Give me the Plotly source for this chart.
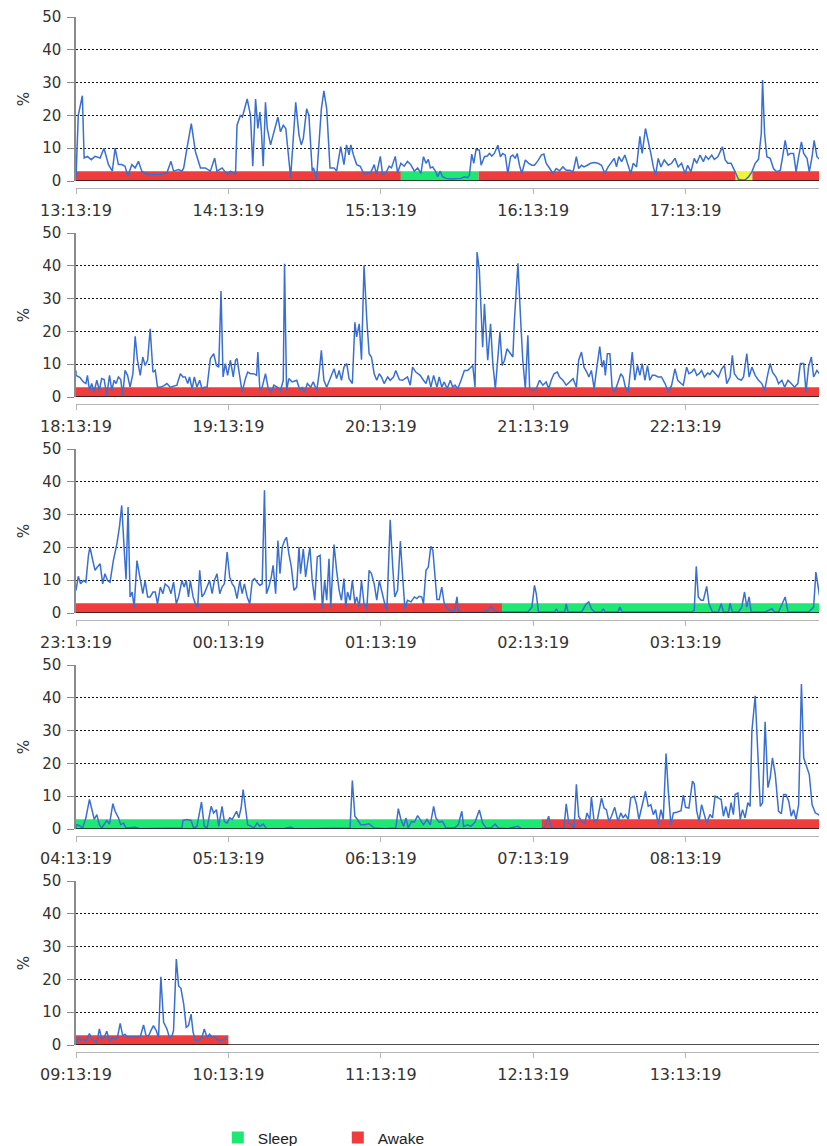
import plotly.graph_objects as go
import pandas as pd

# ---------------- data ----------------
START = pd.Timestamp("2013-06-01 13:13:19")
PANEL_MINUTES = 300  # each row shows 5 hours

# activity (%) per row: (minutes since row start, value)
row1 = [(0,1),(0.9,20),(2.5,26),(3.2,7),(4.5,7.5),(6,6.5),(7.5,7.5),(9.5,7),(11,10),(12.8,5),(14.3,3),(15.4,10),(16.7,5),(18,5),(19.3,4.5),(20.4,1.5),(22,5),(23.3,4),(24.6,6),(25.9,3),(27.9,2),(30.5,2),(33.2,2),(35.8,2.5),(37.4,6),(38.4,3),(40.4,3.5),(41.7,3),(42.4,4),(43.7,10),(45.4,17.5),(47,9),(49,4),(50.9,4),(52.9,3),(54.6,7),(55.5,3),(57.5,4),(59.5,2),(60.8,3),(62.8,2),(63.4,17),(64.7,20),(65.5,19.5),(67.4,25),(68.7,20),(69.6,4.5),(70.7,25),(71.6,16),(72.4,21),(73,15),(73.7,4.5),(74.6,24),(75.3,16),(76.6,11),(77.6,14),(79.5,19.5),(80.5,15),(81.6,17),(82.6,16),(84.5,1),(86.5,24),(87.8,14),(88.7,11),(89.5,13),(90.8,22),(91.7,20),(93,3),(93.5,4),(94.7,0.5),(96.6,22),(97.6,27.5),(98.7,22),(100,4),(101.6,4),(102.6,3),(104.2,10.5),(105.5,5),(106.5,11),(107.5,8),(108.2,11),(109.2,8),(110.5,5),(111.9,4.5),(113.4,2),(114.8,2.5),(116,2.5),(117.4,5),(118.3,2),(119.8,7.5),(120.7,2),(122,2.5),(123.3,4.5),(124.2,4),(125.7,7.5),(126.6,2.5),(127.9,5.4),(129.2,4.5),(130.5,6),(131.8,5),(133.2,3),(134.5,4),(135.8,2.3),(136.8,7.4),(137.8,5.4),(138.7,6.6),(139.5,4),(140.4,4.3),(141.5,3),(142.4,1.3),(143.4,3),(144.3,1.3),(145.7,0.8),(147.6,0.6),(149.6,0.6),(151.6,0.8),(152.9,1.3),(154.2,1),(154.9,1.8),(155.8,8.2),(156.6,5.4),(157.5,9.6),(158.8,9.4),(159.5,4.8),(160.8,7.4),(161.9,7.6),(162.8,8.4),(163.7,7.6),(164.7,8.4),(166.1,10.9),(167.1,7.4),(168,8.4),(169,7.9),(170,2.3),(171.1,7.4),(172,7.9),(172.9,6.9),(173.7,8.4),(174.6,4.8),(175.5,2.3),(176.9,6.4),(178.2,5.4),(179.5,4.8),(180.5,4.8),(181.9,6.2),(183.2,7.9),(184.2,8.2),(185.1,5.4),(186.5,3.8),(187.8,2.3),(189.1,3.8),(190.4,3.1),(191.7,4.3),(193,3.3),(194.4,3.3),(195.7,2.8),(197,7.4),(197.9,3.8),(199,4.8),(200,4.3),(201.3,4.8),(202.6,5.4),(204,5.6),(205.5,5.4),(206.9,4.8),(208.2,2.3),(209.5,4.3),(210.8,5.9),(211.9,6.9),(212.8,4.3),(213.7,7.4),(214.8,5.9),(216.1,7.9),(217.1,5.4),(218.4,2.3),(219.4,5.4),(220.7,4.3),(222,13.6),(222.9,8.4),(224.2,16),(225.3,12.4),(226.3,8.4),(227.3,4.3),(228.2,1.8),(229.2,6.9),(230.3,4.3),(231.6,6.4),(233.2,4.8),(234.5,5.4),(235.8,6.9),(237.1,4.3),(238.4,5.4),(239.8,2.3),(240.8,4.8),(242.1,2.8),(243.4,6.9),(244.4,5.4),(245.7,7.9),(247,5.9),(247.9,7.6),(249,6.6),(250.3,7.9),(251.3,6.6),(252.7,7.4),(254.5,10.4),(255.6,6.4),(256.6,5.4),(257.9,5.4),(259.5,2.8),(260.8,0.5),(262.1,0.3),(263.4,0.3),(264.8,1.3),(266.1,2.8),(267.4,5.4),(268.7,6.6),(269.8,14.4),(270.3,30.8),(271.1,14.4),(272,7.4),(273.3,6.9),(274.6,3.8),(275.9,2.8),(277.3,3.3),(278.2,7.4),(279.2,12.4),(280.3,7.9),(281.2,8.4),(282.5,8.4),(283.5,2.8),(284.5,7.4),(285.6,11.9),(286.5,8.4),(287.8,6.9),(288.7,2.8),(289.8,7.4),(290.6,12.4),(291.7,7.4),(293.1,6.4),(294.4,4.3),(295.7,8.4),(296.4,8.9),(298,7),(300,8)]

row2 = [(0,6.6),(1.6,5.9),(2.9,4.6),(3.9,4.1),(4.5,6.6),(5.3,2.0),(6.2,4.1),(7.1,1.5),(8.2,5.1),(9.2,2.0),(10.1,5.6),(11.1,5.3),(12.1,0.5),(13.2,6.6),(14.1,2.0),(15,5.1),(15.8,4.1),(16.7,6.1),(17.6,5.3),(18.4,0.5),(19.3,8.1),(20.3,6.6),(21.3,3.0),(22.4,7.1),(23.3,18.5),(24.2,11.2),(25.3,6.6),(26.3,12.2),(27.2,9.6),(28.2,11.2),(29.2,20.8),(30.3,7.6),(31.2,8.1),(32.1,3.0),(33.2,3.0),(34.5,3.4),(35.8,4.1),(37.1,3.0),(38.4,3.4),(39.7,3.6),(41.1,7.1),(42.1,6.1),(43,6.1),(44,4.1),(44.7,6.1),(45.7,2.5),(46.6,6.1),(47.6,3.0),(48.7,5.1),(49.6,2.5),(50.5,3.0),(51.6,3.0),(52.9,11.7),(54.2,13.2),(55.3,9.6),(56.2,9.1),(57.1,32.3),(57.9,6.1),(58.8,10.2),(59.7,6.6),(60.8,11.2),(61.9,6.1),(62.8,11.2),(63.4,11.7),(64.5,6.1),(65.4,1.5),(66.7,5.6),(67.6,7.6),(68.7,7.1),(70,7.1),(71.1,6.6),(71.6,13.7),(72.4,2.0),(73.3,3.0),(74.6,7.1),(75.7,2.5),(76.9,1.5),(77.9,3.6),(79.2,3.0),(80.5,2.0),(81.6,5.1),(82.1,40.6),(82.9,2.0),(83.8,5.6),(85.1,4.6),(86.9,5.1),(88.2,2.0),(89.1,3.0),(90,1.5),(91.1,4.1),(92.4,3.0),(93.4,4.6),(94.8,2.0),(95.7,7.1),(96.6,14.2),(97.6,5.1),(98.7,3.0),(100,5.6),(100.9,7.1),(101.6,8.6),(102.6,5.6),(103.6,8.1),(104.5,5.1),(105.5,9.1),(106.6,10.2),(107.5,5.6),(108.8,4.1),(109.8,22.8),(110.5,18.3),(111.5,22.3),(112.4,11.4),(113.4,40.1),(114.5,23.4),(115.4,13.2),(116.3,12.2),(117.4,7.1),(118.4,5.1),(119.4,7.1),(120.3,6.1),(121.3,4.1),(122.7,6.1),(123.7,5.1),(125,6.1),(125.9,8.1),(127.3,5.3),(128.6,5.1),(129.5,5.6),(130.5,6.1),(131.6,3.6),(132.5,9.1),(133.8,7.6),(135.5,6.6),(136.8,5.1),(137.8,4.1),(138.7,6.6),(139.7,3.0),(140.8,6.6),(142.1,3.0),(143,6.1),(144,3.0),(145,4.6),(146.1,2.5),(147.4,5.1),(148.3,3.0),(149.2,3.6),(150.3,2.5),(151.6,5.1),(152.9,8.1),(154.2,8.1),(155.5,9.1),(156.2,9.6),(157.1,3.0),(157.9,44.2),(158.8,38.6),(159.5,27.4),(160.1,15.2),(160.8,28.4),(161.5,20.3),(162.1,11.2),(163.2,22.3),(164.1,10.2),(165.1,2.5),(166.1,11.2),(166.9,19.8),(167.8,9.6),(168.7,11.2),(169.7,14.7),(170.7,13.7),(172,12.2),(172.6,23.4),(173.3,32.5),(174,40.8),(175,24.4),(175.9,11.2),(176.9,2.5),(177.9,18.8),(178.6,2.5),(179.9,2.0),(181.2,2.5),(182.5,5.1),(183.8,3.6),(185.1,4.6),(186.1,2.5),(187.1,5.1),(188.2,7.1),(189.5,7.6),(190.4,6.1),(191.7,5.1),(193,3.6),(194.4,4.6),(195.7,5.6),(197,3.0),(197.9,11.2),(199,13.7),(200,9.1),(201.1,7.6),(201.9,6.1),(202.9,8.1),(204,2.5),(204.9,8.1),(206.2,15.4),(207.1,9.1),(207.8,11.2),(208.4,6.6),(209.2,13.2),(210.2,13.2),(211.1,2.5),(212.1,1.5),(213.4,4.6),(214.5,7.1),(215.4,6.1),(216.3,3.0),(217.4,1.5),(218.4,9.1),(219,13.7),(220,5.1),(221.1,9.6),(222,6.6),(222.9,10.2),(224,5.1),(225,9.6),(225.9,5.1),(226.9,6.6),(227.9,6.6),(229.2,6.1),(230.5,6.1),(231.9,4.1),(233.2,1.5),(234.5,3.6),(235.8,8.6),(236.9,5.1),(238.2,4.1),(239.1,3.6),(240.4,9.1),(241.3,7.1),(242.4,7.6),(243.4,8.6),(244.4,6.6),(245.3,7.1),(246.3,8.1),(247.4,6.1),(248.7,7.3),(249.6,6.9),(250.6,8.1),(251.6,7.1),(252.9,6.1),(254.2,8.6),(255.3,9.6),(256.2,4.1),(257.5,6.1),(258.4,12.7),(259.2,7.1),(260.6,5.6),(261.9,5.1),(262.8,6.1),(264.1,13.2),(265,6.1),(266.1,9.1),(267.4,6.6),(268.7,5.1),(270,4.1),(271.1,2.0),(272.4,7.1),(273.3,10.2),(274.2,7.6),(275.6,6.1),(276.6,4.1),(277.9,5.1),(279,3.0),(280.3,5.1),(281.6,4.1),(282.9,3.0),(284.2,4.1),(285.2,10.2),(286.5,10.2),(287.4,1.5),(288.4,9.1),(289.5,12.2),(290.4,6.1),(291.7,8.1),(293.1,6.6),(294.4,9.1),(295.7,6.6),(298,7),(300,7)]

row3 = [(0,6.9),(0.9,11.2),(1.8,8.9),(2.9,9.9),(3.9,9.4),(4.9,17.6),(5.5,20.1),(6.6,16),(7.5,13),(8.4,14),(9.5,15),(10.5,8.9),(11.4,12),(12.4,9.9),(13.4,9.4),(14.7,16),(16.1,21.1),(17.1,26.2),(18,32.8),(19,19.1),(19.7,10.2),(20.5,32.3),(21.3,4.9),(22.1,6.4),(22.9,1.8),(24,16),(25.3,9.9),(26.3,5.9),(27.2,9.9),(28.2,4.9),(29.2,4.9),(30.3,6.4),(31.2,6.4),(32.1,2.8),(33.2,7.9),(34.2,5.9),(35.1,8.9),(36.5,7.9),(37.4,5.9),(38.4,9.4),(39.5,2.8),(40.4,4.9),(41.7,9.9),(42.6,7.9),(43.4,9.9),(44.3,4.9),(45,9.9),(46.1,4.9),(47,2.8),(47.9,1.8),(48.7,13),(49.6,4.9),(50.5,5.9),(51.6,7.9),(52.6,9.9),(53.6,5.9),(54.5,9.9),(55.5,12),(56.6,5.9),(57.5,7.9),(58.4,8.9),(59.5,18.6),(60.5,11),(61.5,8.9),(62.4,7.9),(63.4,4.4),(64.5,9.9),(65.4,5.9),(66.3,8.9),(67.4,4.9),(68.4,2.8),(69.4,9.9),(70.3,10.5),(71.3,9.4),(72.4,8.4),(73.3,8.9),(74.2,37.4),(75,5.9),(75.9,7.9),(76.9,11),(77.6,14.5),(78.6,5.9),(79.5,22.1),(80.3,12),(81.2,20.1),(82.1,22.1),(82.9,23.1),(83.8,18.1),(84.8,14),(85.8,6.9),(86.9,7.9),(87.8,20.1),(88.4,12),(89.5,19.6),(90.4,11),(91.1,15),(92.1,20.1),(93,9.9),(94,3.9),(95,17.1),(96.1,17.6),(97,1.3),(97.9,9.9),(98.7,3.9),(99.6,16.5),(100.3,1.8),(100.9,9.9),(101.6,20.9),(102.6,13),(103.6,6.9),(104.5,3.9),(105.5,10.5),(106.2,1.8),(106.9,6.4),(107.9,3.9),(108.8,9.9),(109.8,2.8),(110.5,4.9),(111.5,1.8),(112.4,9.9),(113.4,2.8),(114.5,1.3),(115.4,13),(116.3,12),(117.4,8.9),(118.4,3.9),(119.4,9.9),(120.3,6.9),(121.1,4.9),(122,1.3),(122.4,1.3),(123.7,28.4),(124.7,14),(125.5,4.9),(126.6,6.9),(127.7,21.9),(128.6,11),(129.5,1.3),(130.5,3.9),(131.9,3.4),(133.2,4.9),(134.2,4.4),(135.1,5.1),(136.1,4.9),(136.8,2.8),(137.8,13),(138.7,14),(139.7,20.3),(140.5,19.1),(141.3,12),(142.1,4.1),(143,4.1),(144,7.9),(145,2.8),(146.3,1.3),(147.6,0.6),(149,0.6),(150,4.9),(150.5,0.6),(151.6,0.3),(154.2,0.3),(156.9,0.3),(159.5,0.3),(162.1,0.8),(163.4,2.0),(164.7,0.6),(166.7,0.3),(170,0.3),(172.6,0.3),(177.9,0.3),(179.5,1.8),(180.5,8.4),(181.2,5.9),(182.1,0.3),(184.5,0.3),(188.4,0.3),(189.1,1.3),(189.8,0.3),(192.4,0.3),(193,2.8),(193.7,0.3),(199,0.3),(200.9,2.8),(201.9,3.4),(202.9,1.3),(204.2,0.3),(206.9,0.3),(207.5,1.3),(208.4,0.3),(213.4,0.3),(214.1,1.8),(215,0.3),(220,0.3),(227.9,0.3),(235.8,0.3),(242.4,0.3),(243.4,0.8),(244.2,14.2),(245,4.9),(246.1,3.9),(247,3.9),(248.3,8.1),(249.2,2.8),(250.6,0.3),(252.9,0.3),(254,2.8),(254.9,0.3),(256.9,0.3),(257.5,3.0),(258.4,0.3),(260.8,0.3),(262.1,1.8),(263.2,6.4),(264.1,1.8),(265,4.9),(265.8,0.3),(268.7,0.3),(271.3,0.3),(274,1.3),(275,0.3),(276.6,0.3),(279.2,4.9),(280.3,0.3),(283.2,0.3),(288.4,0.3),(290.4,1.8),(291.3,12.5),(292.4,6.9),(293.7,0.3),(296.4,0.3),(300,0.5)]

row4 = [(0,1.3),(1.3,1.1),(2.6,0.3),(3.9,3.4),(5.3,9),(6.2,6.4),(7.2,2.9),(8.2,4.4),(9.2,1.3),(10.1,0.3),(11.1,1.3),(12.1,2.6),(13.2,1.5),(14.5,7.7),(15.4,5.4),(16.7,3.4),(17.6,1.3),(18.7,1.8),(19.7,0.3),(21.3,0.3),(23.3,0.5),(25.3,0.1),(29.2,0.1),(33.2,0.1),(35.8,0.1),(38.4,0.1),(41.7,0.3),(42.1,2.6),(43.7,2.9),(45.3,2.6),(46.3,0.3),(47.6,0.8),(49.4,8.2),(50.5,0.8),(51.6,0.3),(53.2,6.9),(54.2,4.9),(55.3,5.9),(56.2,0.8),(57.5,6.9),(58.4,2.3),(59.5,1.8),(60.5,3.4),(61.5,2.9),(63.2,5.4),(64.1,3.4),(65,6.4),(65.8,12),(66.7,6.4),(67.6,1.3),(69,0.8),(70,0.3),(71.3,1.8),(72.4,0.8),(73.7,1.5),(75,0.1),(77.9,0.1),(81.9,0.1),(84.5,0.6),(85.8,0.1),(91.1,0.1),(99,0.1),(106.9,0.1),(107.9,0.3),(108.8,14.8),(109.8,3.9),(110.8,2.9),(112.1,1.3),(113.7,1.3),(115.4,1.6),(117.4,0.3),(121.3,0.1),(125.9,0.3),(126.9,6.2),(127.9,2.9),(129,0.8),(129.9,3.4),(130.8,0.3),(132.1,2.3),(133.2,2.1),(134.5,4.1),(135.5,2.9),(136.8,1.3),(138.2,2.9),(139.5,1.3),(140.8,6.9),(141.7,3.4),(143,2.1),(144.3,2.3),(145.7,0.3),(147.4,0.3),(149,0.3),(150.5,1.3),(151.9,5.4),(152.6,0.8),(154.2,1.3),(155.5,0.8),(157.1,2.1),(158.8,5.8),(160.1,1.8),(161.5,0.3),(163.4,0.3),(165,1.5),(166.3,0.3),(170,0.1),(174,0.8),(175.3,0.1),(180.5,0.1),(183.2,0.1),(184.5,0.5),(186.1,3.9),(187.1,0.3),(189.8,0.1),(192.1,0.3),(193,7.7),(194,1.8),(195.3,1.3),(196.1,0.3),(197,13.6),(197.9,3.9),(199,2.3),(200.3,1.8),(201.2,4.9),(202.3,2.9),(202.9,9.8),(204,2.3),(205.3,2.9),(206.9,9.5),(207.9,6.4),(208.8,5.9),(209.8,2.3),(210.8,3.9),(212.1,6.6),(213.4,2.3),(214.5,4.9),(215.4,3.4),(216.3,4.4),(217.4,2.9),(218.4,9.5),(219.8,10),(220.7,7.4),(221.6,2.9),(222.7,6.4),(224.2,11.5),(225.3,6.9),(226.3,7.4),(227.3,4.4),(228.2,5.9),(229.2,1.3),(230.3,5.9),(231.2,2.9),(232.3,23),(233.2,11.5),(234.2,1.3),(235.2,4.9),(236.5,5.1),(238.2,5.6),(239.1,10.3),(240,6.6),(241.3,6.4),(242.7,14.6),(243.4,13.8),(244.4,5.4),(245.3,2.3),(246.3,7.4),(247.4,3.9),(248.3,1.8),(249.6,4.4),(250.6,3.4),(251.6,10),(252.9,9.5),(254,9),(254.9,3.9),(255.8,6.9),(256.9,3.4),(257.9,8),(258.8,4.4),(259.5,10.5),(260.6,11),(261.5,2.9),(262.4,5.9),(263.4,3.4),(264.5,8),(265.4,6.9),(266.1,29.9),(267.4,40.6),(268.4,23.8),(269.4,6.9),(270.3,8),(271.3,32.7),(272.4,12.6),(273.3,15.6),(274.2,21.7),(275.3,16.6),(276.6,5.4),(277.7,4.7),(278.6,10.5),(279.5,10.5),(280.6,8.5),(281.6,3.9),(282.5,5.9),(283.5,2.9),(284.5,7.4),(285.6,44.2),(286.5,21.7),(287.4,19.7),(288.7,16.6),(289.8,7.4),(291.1,4.9),(292.4,4.4),(293.5,2.9),(294.8,4.4),(295.7,22.2),(296.3,5.4),(298,3),(300,1.5)]

row5 = [(0,0.8),(0.9,2.3),(1.8,1.5),(2.9,1.8),(3.9,1.3),(5.3,3.5),(6.2,1.8),(7.1,1.3),(8.2,0.8),(9.2,4.9),(10.1,1.8),(11.1,2.3),(12.1,4.2),(13.2,1.3),(14.5,2.3),(15.4,1.8),(16.3,2.3),(17.4,6.6),(18.4,2.8),(19.3,3.3),(20.3,2.3),(21.3,2.5),(22.6,2.3),(24,2.3),(25.3,2.5),(26.6,6.1),(27.6,2.8),(28.6,2.8),(29.5,4.4),(30.5,5.9),(31.6,4.4),(32.5,2.3),(33.4,20.8),(34.5,6.9),(35.8,4.9),(36.8,2.3),(37.8,2.8),(38.4,4.4),(39.5,26.2),(40.4,18),(41.3,17.3),(42.4,12.5),(43.4,5.4),(44.3,5.9),(45.3,9.4),(46.1,3.9),(47,1.3),(48.3,1.5),(49.6,2.3),(50.5,4.9),(51.6,2.3),(52.6,3.3),(53.6,2.3),(54.5,2.5),(55.5,1.8),(56.8,1.3),(58.2,1.8),(59.5,2)]

rows = [row1, row2, row3, row4, row5]

# sleep / wake state (minutes since START)
state_label = ["Awake", "Sleep", "Awake", "Unknown", "Awake", "Sleep", "Awake"]
state_start = [0, 127.9, 158.5, 259.7, 266.3, 767.7, 1083.2]
state_end = [127.9, 158.5, 259.7, 266.3, 767.7, 1083.2, 1260]
STATE_LEVEL = 3  # height of the state band, in %

y_ticks = [0, 10, 20, 30, 40, 50]

# ---------------- style ----------------
PAGE_MARGIN = 8             # default body margin of the html page
W, H = 827 - PAGE_MARGIN, 1146 - PAGE_MARGIN
LEFT = 76 - PAGE_MARGIN
HOUR_PX = 152.4
ROW_TOP = [17 - PAGE_MARGIN + 216 * k for k in range(5)]
ROW_H = 164
AXIS_GAP = 7
LEGEND_Y = 1138 - PAGE_MARGIN
LINE_COLOR = "#3a6fd2"
STATE_COLOR = {"Awake": "#f03c3c", "Sleep": "#1de873", "Unknown": "#f2f23a"}
TXT = "#333333"
FONT = "DejaVu Sans"

visible_min = (W - LEFT) / HOUR_PX * 60

times, values = [], []
for k, row in enumerate(rows):
    for m, v in row:
        times.append(START + pd.Timedelta(minutes=k * PANEL_MINUTES + m))
        values.append(v)

def fmt(ts):
    return ts.strftime("%Y-%m-%d %H:%M:%S.%f")[:-3]

fig = go.Figure()
layout = dict(
    width=W, height=H,
    margin=dict(l=LEFT, r=0, t=0, b=0, autoexpand=False),
    paper_bgcolor="white", plot_bgcolor="white",
    barmode="overlay",
    showlegend=True,
    legend=dict(orientation="h", x=0.1888, xanchor="left",
                y=1 - LEGEND_Y / H, yanchor="middle",
                font=dict(family="Liberation Sans", size=15.5, color="#222"),
                entrywidth=75, bgcolor="rgba(0,0,0,0)", itemclick=False),
    shapes=[],
)

shown = set()
for k in range(5):
    xa = "x" if k == 0 else f"x{k+1}"
    ya = "y" if k == 0 else f"y{k+1}"
    xkey = "xaxis" if k == 0 else f"xaxis{k+1}"
    ykey = "yaxis" if k == 0 else f"yaxis{k+1}"
    r0 = START + pd.Timedelta(minutes=k * PANEL_MINUTES)
    r1 = r0 + pd.Timedelta(minutes=visible_min)
    top = ROW_TOP[k]
    bot = top + ROW_H

    # state bands
    for lab, s, e in zip(state_label, state_start, state_end):
        ts = START + pd.Timedelta(minutes=s)
        te = START + pd.Timedelta(minutes=e)
        mid = ts + (te - ts) / 2
        show = lab != "Unknown" and lab not in shown
        if show:
            shown.add(lab)
        fig.add_trace(go.Bar(
            x=[mid], y=[STATE_LEVEL], base=0,
            width=[(te - ts).total_seconds() * 1000],
            marker=dict(color=STATE_COLOR[lab], line=dict(width=0)),
            name=lab, legendgroup=lab, showlegend=show,
            legendrank=1 if lab == "Sleep" else 2,
            xaxis=xa, yaxis=ya, hoverinfo="skip"))

    # activity line
    fig.add_trace(go.Scatter(
        x=times, y=values, mode="lines",
        line=dict(color=LINE_COLOR, width=1.5),
        showlegend=False, xaxis=xa, yaxis=ya, hoverinfo="skip"))

    layout[xkey] = dict(
        type="date", range=[fmt(r0), fmt(r1)],
        tick0=fmt(START), dtick=3600000, tickformat="%H:%M:%S",
        anchor="free", position=1 - (bot + AXIS_GAP) / H,
        showline=True, linecolor="#b5b5b5", linewidth=1,
        ticks="outside", ticklen=5, tickcolor="#b5b5b5",
        ticklabelstandoff=3,
        showgrid=False, zeroline=False,
        tickfont=dict(family=FONT, size=16, color=TXT),
        fixedrange=True,
    )
    layout[ykey] = dict(
        domain=[1 - bot / H, 1 - top / H], range=[0, 50],
        tickvals=y_ticks, anchor=xa,
        showgrid=True, gridcolor="#111", gridwidth=1, griddash="2px,2px",
        zeroline=False,
        showline=True, linecolor="#8a8a8a", linewidth=1.5,
        ticks="outside", ticklen=7, tickcolor="#8a8a8a",
        ticklabelstandoff=3,
        tickfont=dict(family=FONT, size=15, color=TXT),
        title=dict(text="%", font=dict(family=FONT, size=15, color=TXT), standoff=9),
        fixedrange=True,
    )
    xdom = "x domain" if k == 0 else f"x{k+1} domain"
    layout["shapes"].append(dict(type="line", xref=xdom, x0=0, x1=1, yref=ya, y0=0, y1=0,
                                 line=dict(color="#151515", width=1.5), layer="above"))

fig.update_layout(**layout)
fig.write_html("out.html", config={"displayModeBar": False})
